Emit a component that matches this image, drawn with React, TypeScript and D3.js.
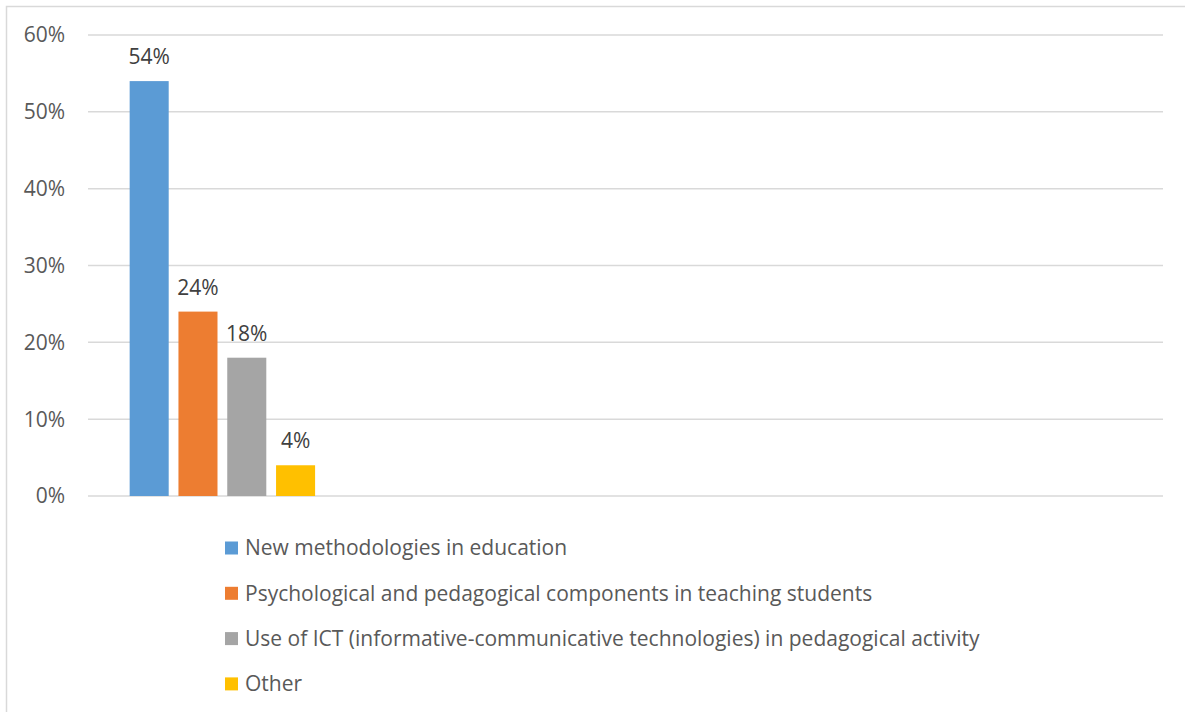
import React from "react";
import * as d3 from "d3";

const series = [
  "New methodologies in education",
  "Psychological and pedagogical components in teaching students",
  "Use of ICT (informative-communicative technologies) in pedagogical activity",
  "Other",
];
const values = [0.54, 0.24, 0.18, 0.04];
const colors = ["#5B9BD5", "#ED7D31", "#A5A5A5", "#FFC000"];
const categorySlots = ["c1", "c2", "c3", "c4"];
const yTicks = [0, 0.1, 0.2, 0.3, 0.4, 0.5, 0.6];

const W = 1185;
const H = 712;
const FONT = "'Open Sans', sans-serif";

export default function App() {
  const left = 88, right = 1163, top = 35, bottom = 496;
  const y = d3.scaleLinear().domain([0, 0.6]).range([bottom, top]);
  const x0 = d3.scaleBand().domain(categorySlots).range([left, right]).paddingInner(0.31).paddingOuter(0.155);
  const x1 = d3.scaleBand().domain(series).range([0, x0.bandwidth()]).paddingInner(0.2);
  const fmt = d3.format(".0%");
  return (
    <svg width={W} height={H} style={{ position: "absolute", left: 0, top: 0 }}>
      <rect x={0} y={0} width={W} height={H} fill="#fff" />
      <rect x={6.5} y={6.5} width={W + 10} height={H + 10} fill="none" stroke="#D9D9D9" strokeWidth={1.5} />
      {yTicks.map((t) => (
        <g key={t}>
          <line x1={left} x2={right} y1={y(t)} y2={y(t)} stroke="#D9D9D9" strokeWidth={1.5} />
          <text x={65} y={y(t)} dy="0.35em" textAnchor="end" fontFamily={FONT} fontSize={21} fill="#595959">
            {fmt(t)}
          </text>
        </g>
      ))}
      {values.map((v, i) => {
        const bx = (x0(categorySlots[0]) as number) + (x1(series[i]) as number);
        return (
          <g key={i}>
            <rect x={bx} y={y(v)} width={x1.bandwidth()} height={y(0) - y(v)} fill={colors[i]} />
            <text x={bx + x1.bandwidth() / 2} y={y(v) - 17} textAnchor="middle" fontFamily={FONT} fontSize={21} fill="#404040">
              {fmt(v)}
            </text>
          </g>
        );
      })}
      {series.map((s, i) => (
        <g key={s} transform={`translate(225, ${548 + i * 45.3})`}>
          <rect x={0} y={-6.5} width={13} height={13} fill={colors[i]} />
          <text x={20} y={0} dy="0.35em" fontFamily={FONT} fontSize={21} fill="#595959">
            {s}
          </text>
        </g>
      ))}
    </svg>
  );
}
